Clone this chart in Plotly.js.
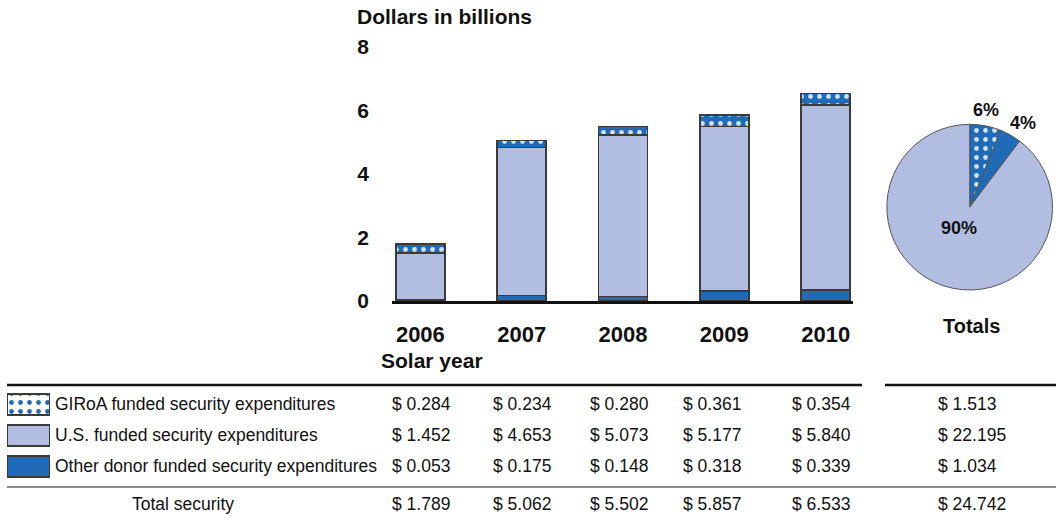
<!DOCTYPE html>
<html>
<head>
<meta charset="utf-8">
<script src="https://cdn.plot.ly/plotly-3.0.1.min.js"></script>
<style>
  html, body { margin: 0; padding: 0; background: #ffffff; }
  #chart { width: 1056px; height: 522px; }
</style>
</head>
<body>
<div id="chart"></div>
<script>
// ---------------- data ----------------
const years = ['2006', '2007', '2008', '2009', '2010'];
const giroaFunded = [0.284, 0.234, 0.280, 0.361, 0.354];
const usFunded = [1.452, 4.653, 5.073, 5.177, 5.840];
const otherDonorFunded = [0.053, 0.175, 0.148, 0.318, 0.339];
const totalSecurity = [1.789, 5.062, 5.502, 5.857, 6.533];
const seriesTotals = [1.513, 22.195, 1.034];   // GIRoA, U.S., Other donor
const grandTotal = 24.742;
const seriesNames = ['GIRoA funded security expenditures', 'U.S. funded security expenditures', 'Other donor funded security expenditures'];
const totalRowLabel = 'Total security';
const yTickVals = [0, 2, 4, 6, 8];
const yAxisTitle = 'Dollars in billions';
const xAxisTitle = 'Solar year';
const pieTitle = 'Totals';

// ---------------- styling ----------------
const W = 1056, H = 522;
const px = x => x / W;
const py = y => 1 - y / H;
const FONT = 'Liberation Sans, Arial, sans-serif';
const DARK = '#1f6bb8';
const LIGHT = '#b1bde1';
const EDGE = '#3a3a3a';
const PAT_FG = 'rgba(255,255,255,0.8)';
const giroaPattern = { shape: '.', fillmode: 'replace', bgcolor: DARK, fgcolor: PAT_FG, size: 9, solidity: 0.22 };

const barWidth = 0.484;
const traces = [
  { type: 'bar', x: years, y: otherDonorFunded, name: seriesNames[2], width: barWidth,
    marker: { color: DARK, line: { color: EDGE, width: 1.5 } } },
  { type: 'bar', x: years, y: usFunded, name: seriesNames[1], width: barWidth,
    marker: { color: LIGHT, line: { color: EDGE, width: 1.5 } } },
  { type: 'bar', x: years, y: giroaFunded, name: seriesNames[0], width: barWidth,
    marker: { color: DARK, pattern: giroaPattern, line: { color: EDGE, width: 1.5 } } },
  { type: 'pie', values: [seriesTotals[0], seriesTotals[2], seriesTotals[1]],
    labels: [seriesNames[0], seriesNames[2], seriesNames[1]],
    sort: false, direction: 'clockwise', rotation: 0, textinfo: 'none',
    domain: { x: [px(886.7), px(1052.7)], y: [py(290), py(124.3)] },
    marker: { colors: [DARK, DARK, LIGHT], line: { color: '#555', width: 1 },
      pattern: { shape: ['.', '', ''], fillmode: 'replace', bgcolor: [DARK, DARK, LIGHT],
        fgcolor: [PAT_FG, DARK, LIGHT], size: 9, solidity: 0.22 } } },
  // legend swatches of the table
  { type: 'bar', orientation: 'h', xaxis: 'x2', yaxis: 'y2', y: [0, 1, 2], x: [1, 1, 1], width: 0.677,
    marker: { color: [DARK, LIGHT, DARK], line: { color: EDGE, width: 1.5 },
      pattern: { shape: ['.', '', ''], fillmode: 'replace', bgcolor: [DARK, LIGHT, DARK],
        fgcolor: [PAT_FG, LIGHT, DARK], size: 9, solidity: 0.22 } } }
];

const annotations = [];
const boldFont = (size) => ({ family: FONT, size: size, color: '#111', weight: 'bold' });
annotations.push({ text: yAxisTitle, xref: 'paper', yref: 'paper', x: px(355), y: py(16), xanchor: 'left', yanchor: 'middle', showarrow: false, font: boldFont(21) });
annotations.push({ text: xAxisTitle, xref: 'paper', yref: 'paper', x: px(379), y: py(360), xanchor: 'left', yanchor: 'middle', showarrow: false, font: boldFont(21) });
annotations.push({ text: pieTitle, xref: 'paper', yref: 'paper', x: px(971), y: py(326), xanchor: 'center', yanchor: 'middle', showarrow: false, font: boldFont(20) });

// pie percentage labels
const pct = v => Math.round(v / grandTotal * 100) + '%';
const pieLabelPos = [[986, 110], [1023, 123], [959, 228]];
[seriesTotals[0], seriesTotals[2], seriesTotals[1]].forEach((v, i) => {
  annotations.push({ text: pct(v), xref: 'paper', yref: 'paper', x: px(pieLabelPos[i][0]), y: py(pieLabelPos[i][1]),
    xanchor: 'center', yanchor: 'middle', showarrow: false, font: boldFont(18) });
});

// table
const tableFont = { family: FONT, size: 17.5, color: '#111' };
const rowY = [404, 435, 466, 504];
const colX = [390, 491, 588, 681, 790, 936];
const money = v => '$ ' + v.toFixed(3);
const rows = [giroaFunded, usFunded, otherDonorFunded];
rows.forEach((row, r) => {
  annotations.push({ text: seriesNames[r], xref: 'paper', yref: 'paper', x: px(53), y: py(rowY[r]), xanchor: 'left', yanchor: 'middle', showarrow: false, font: tableFont });
  row.forEach((v, c) => {
    annotations.push({ text: money(v), xref: 'paper', yref: 'paper', x: px(colX[c]), y: py(rowY[r]), xanchor: 'left', yanchor: 'middle', showarrow: false, font: tableFont });
  });
  annotations.push({ text: money(seriesTotals[r]), xref: 'paper', yref: 'paper', x: px(colX[5]), y: py(rowY[r]), xanchor: 'left', yanchor: 'middle', showarrow: false, font: tableFont });
});
annotations.push({ text: totalRowLabel, xref: 'paper', yref: 'paper', x: px(183), y: py(rowY[3]), xanchor: 'center', yanchor: 'middle', showarrow: false, font: tableFont });
totalSecurity.forEach((v, c) => {
  annotations.push({ text: money(v), xref: 'paper', yref: 'paper', x: px(colX[c]), y: py(rowY[3]), xanchor: 'left', yanchor: 'middle', showarrow: false, font: tableFont });
});
annotations.push({ text: money(grandTotal), xref: 'paper', yref: 'paper', x: px(colX[5]), y: py(rowY[3]), xanchor: 'left', yanchor: 'middle', showarrow: false, font: tableFont });

const shapes = [
  { type: 'line', xref: 'paper', yref: 'paper', x0: px(7), x1: px(862), y0: py(385), y1: py(385), line: { color: '#111', width: 2.5 } },
  { type: 'line', xref: 'paper', yref: 'paper', x0: px(885), x1: px(1056), y0: py(385), y1: py(385), line: { color: '#111', width: 2.5 } },
  { type: 'line', xref: 'paper', yref: 'paper', x0: px(7), x1: px(1056), y0: py(487), y1: py(487), line: { color: '#666', width: 1.5 } }
];

const layout = {
  width: W, height: H,
  margin: { l: 0, r: 0, t: 0, b: 0 },
  paper_bgcolor: '#ffffff', plot_bgcolor: 'rgba(0,0,0,0)',
  barmode: 'stack', showlegend: false, hovermode: false,
  font: { family: FONT, color: '#111' },
  xaxis: { type: 'category', domain: [px(392), px(853)], range: [-0.28, 4.27], anchor: 'y',
    showline: true, linecolor: '#111', linewidth: 2.5, showgrid: false, zeroline: false,
    ticks: '', ticklabelstandoff: 12, tickfont: boldFont(22) },
  yaxis: { domain: [py(301), py(47)], range: [0, 8], anchor: 'x', tickvals: yTickVals,
    showline: false, showgrid: false, zeroline: false, ticks: '', ticklabelstandoff: 22, tickfont: boldFont(21) },
  xaxis2: { domain: [px(7), px(50)], range: [0, 1], anchor: 'y2', visible: false, fixedrange: true },
  yaxis2: { domain: [py(482), py(389)], range: [2.5, -0.5], anchor: 'x2', visible: false, fixedrange: true },
  annotations: annotations,
  shapes: shapes
};

Plotly.newPlot('chart', traces, layout, { staticPlot: true, displayModeBar: false });
</script>
</body>
</html>
